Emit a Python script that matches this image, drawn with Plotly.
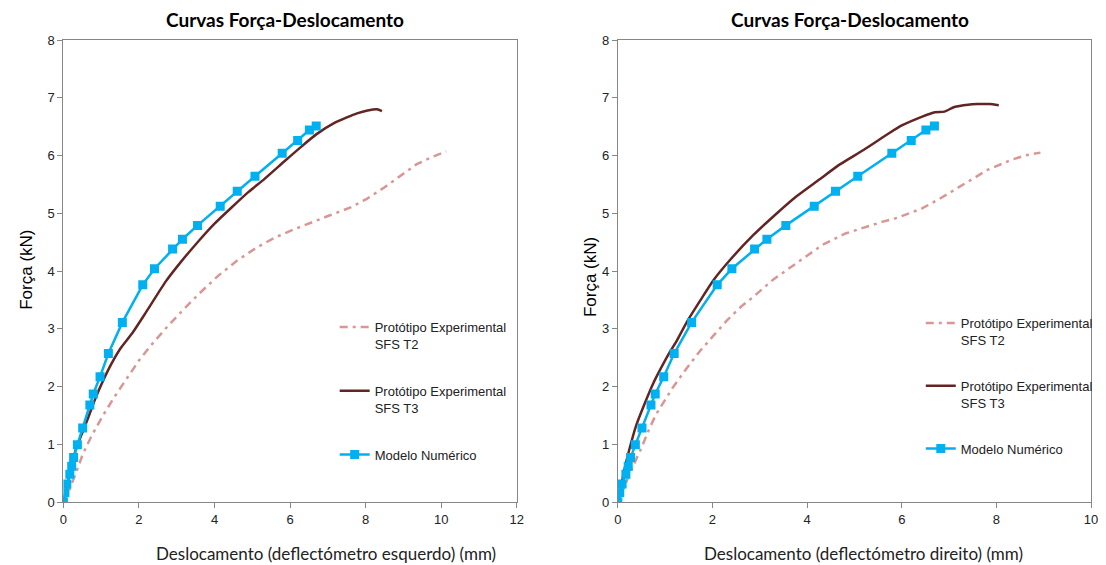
import plotly.graph_objects as go

# ---------------- data ----------------
# Numerical model (same curve in both panels)
model_x = [0, 0.04, 0.09, 0.17, 0.22, 0.27, 0.37, 0.51, 0.70, 0.79, 0.97, 1.19, 1.56,
           2.10, 2.41, 2.89, 3.15, 3.55, 4.15, 4.60, 5.07, 5.79, 6.20, 6.51, 6.69]
model_y = [0, 0.16, 0.31, 0.48, 0.62, 0.77, 0.99, 1.28, 1.68, 1.87, 2.17, 2.57, 3.11,
           3.76, 4.04, 4.38, 4.55, 4.79, 5.12, 5.38, 5.64, 6.04, 6.26, 6.44, 6.51]

# Left panel (deflectómetro esquerdo)
t2_left_x = [0, 0.15, 0.30, 0.52, 0.75, 1.05, 1.35, 1.66, 2.00, 2.30, 2.70, 3.10, 3.58,
             4.10, 4.60, 5.10, 5.60, 6.10, 6.55, 7.07, 7.60, 8.03, 8.50, 8.91, 9.35, 9.78, 10.13]
t2_left_y = [0, 0.20, 0.45, 0.84, 1.15, 1.50, 1.82, 2.12, 2.45, 2.70, 3.00, 3.28, 3.60,
             3.92, 4.18, 4.40, 4.58, 4.72, 4.84, 4.97, 5.10, 5.25, 5.45, 5.65, 5.85, 5.98, 6.07]

t3_left_x = [0, 0.10, 0.20, 0.35, 0.50, 0.65, 0.87, 1.22, 1.50, 1.83, 2.20, 2.71, 3.10,
             3.58, 4.00, 4.45, 4.90, 5.33, 5.85, 6.29, 6.70, 7.16, 7.50, 7.77, 8.05, 8.30, 8.43]
t3_left_y = [0, 0.30, 0.60, 0.95, 1.20, 1.45, 1.83, 2.33, 2.65, 2.93, 3.30, 3.82, 4.15,
             4.52, 4.82, 5.10, 5.37, 5.60, 5.90, 6.15, 6.37, 6.56, 6.66, 6.73, 6.78, 6.80, 6.77]

# Right panel (deflectómetro direito)
t2_right_x = [0, 0.15, 0.32, 0.49, 0.67, 0.81, 1.00, 1.16, 1.44, 1.74, 2.02, 2.30, 2.60,
              2.86, 3.28, 3.83, 4.32, 4.81, 5.23, 5.58, 5.90, 6.42, 6.80, 7.11, 7.50, 7.81,
              8.30, 8.60, 8.93]
t2_right_y = [0, 0.30, 0.62, 0.92, 1.28, 1.52, 1.78, 1.98, 2.30, 2.62, 2.88, 3.14, 3.38,
              3.55, 3.85, 4.16, 4.45, 4.65, 4.76, 4.85, 4.92, 5.08, 5.25, 5.40, 5.60, 5.75,
              5.92, 6.00, 6.05]

t3_right_x = [0, 0.08, 0.15, 0.24, 0.39, 0.57, 0.74, 0.90, 1.10, 1.25, 1.46, 1.75, 2.02,
              2.37, 2.86, 3.28, 3.77, 4.25, 4.70, 5.20, 5.72, 6.00, 6.42, 6.70, 6.90, 7.11,
              7.40, 7.60, 7.85, 8.05]
t3_right_y = [0, 0.32, 0.60, 0.90, 1.33, 1.71, 2.04, 2.30, 2.60, 2.80, 3.12, 3.50, 3.84,
              4.19, 4.62, 4.94, 5.29, 5.58, 5.85, 6.10, 6.38, 6.52, 6.67, 6.75, 6.76, 6.84,
              6.88, 6.89, 6.89, 6.87]

x_ticks_left = [0, 2, 4, 6, 8, 10, 12]
x_ticks_right = [0, 2, 4, 6, 8, 10]
y_ticks = [0, 1, 2, 3, 4, 5, 6, 7, 8]

name_t2 = "Protótipo Experimental<br>SFS T2"
name_t3 = "Protótipo Experimental<br>SFS T3"
name_model = "Modelo Numérico"
title_text = "Curvas Força-Deslocamento"
ytitle = "Força (kN)"
xtitle_left = "Deslocamento (deflectómetro esquerdo) (mm)"
xtitle_right = "Deslocamento (deflectómetro direito) (mm)"

# ---------------- styling ----------------
C_T2 = "#D99694"
C_T3 = "#632523"
C_MOD = "#00B0F0"
AX = "#868686"
NARROW = "Liberation Sans Narrow, Arial Narrow, Liberation Sans, Arial, sans-serif"
W, H = 1106, 565

fig = go.Figure()

def add_panel(xa, ya, leg, t2x, t2y, t3x, t3y):
    fig.add_trace(go.Scatter(x=t2x, y=t2y, mode="lines", name=name_t2,
                             line=dict(color=C_T2, width=2.5, dash="8px,5px,3px,5px"),
                             xaxis=xa, yaxis=ya, legend=leg, legendgroup=leg + "a"))
    fig.add_trace(go.Scatter(x=t3x, y=t3y, mode="lines", name=name_t3,
                             line=dict(color=C_T3, width=2.5, shape="spline", smoothing=0.6),
                             xaxis=xa, yaxis=ya, legend=leg, legendgroup=leg + "b"))
    fig.add_trace(go.Scatter(x=model_x, y=model_y, mode="lines+markers", name=name_model,
                             line=dict(color=C_MOD, width=2.5),
                             marker=dict(symbol="square", size=9, color=C_MOD),
                             xaxis=xa, yaxis=ya, legend=leg, legendgroup=leg + "c"))

add_panel("x", "y", "legend", t2_left_x, t2_left_y, t3_left_x, t3_left_y)
add_panel("x2", "y2", "legend2", t2_right_x, t2_right_y, t3_right_x, t3_right_y)

axis_common = dict(showline=True, linecolor=AX, linewidth=1, mirror=True,
                   ticks="outside", ticklen=5, tickcolor=AX, showgrid=False,
                   zeroline=False, tickfont=dict(family=NARROW, size=13, color="#222"))

fig.update_layout(
    width=W, height=H,
    margin=dict(l=0, r=0, t=40, b=63),
    paper_bgcolor="white", plot_bgcolor="white",
    xaxis=dict(domain=[60 / W, 518 / W], range=[0, 12], tickvals=x_ticks_left,
               anchor="y", **axis_common),
    yaxis=dict(domain=[0, 1], range=[0, 8], tickvals=y_ticks, anchor="x", **axis_common),
    xaxis2=dict(domain=[620 / W, 1098 / W], range=[0, 10], tickvals=x_ticks_right,
                anchor="y2", **axis_common),
    yaxis2=dict(domain=[0, 1], range=[0, 8], tickvals=y_ticks, anchor="x2", **axis_common),
    legend=dict(x=334 / W, y=(502 - 312) / 462, xanchor="left", yanchor="top",
                bgcolor="rgba(0,0,0,0)", font=dict(family=NARROW, size=13, color="#222"),
                traceorder="grouped", tracegroupgap=27, valign="top"),
    legend2=dict(x=926 / W, y=(502 - 308) / 462, xanchor="left", yanchor="top",
                 bgcolor="rgba(0,0,0,0)", font=dict(family=NARROW, size=13, color="#222"),
                 traceorder="grouped", tracegroupgap=26, valign="top"),
    showlegend=True,
)

def py(p):
    return (502 - p) / 462

ann = [
    dict(text="<b>" + title_text + "</b>", x=284 / W, y=py(20),
         font=dict(family="Lato, Liberation Sans, sans-serif", size=19, color="#000")),
    dict(text="<b>" + title_text + "</b>", x=855 / W, y=py(20),
         font=dict(family="Lato, Liberation Sans, sans-serif", size=19, color="#000")),
    dict(text=ytitle, x=22 / W, y=py(270), textangle=-90,
         font=dict(family="Liberation Sans, Arial, sans-serif", size=17, color="#000")),
    dict(text=ytitle, x=592 / W, y=py(277), textangle=-90,
         font=dict(family="Liberation Sans, Arial, sans-serif", size=17, color="#000")),
    dict(text=xtitle_left, x=325 / W, y=py(553),
         font=dict(family="Lato, Liberation Sans, sans-serif", size=17, color="#222")),
    dict(text=xtitle_right, x=868 / W, y=py(553),
         font=dict(family="Lato, Liberation Sans, sans-serif", size=17, color="#222")),
]
for a in ann:
    a.update(xref="paper", yref="paper", showarrow=False, xanchor="center", yanchor="middle")
fig.update_layout(annotations=ann)

fig.write_html("out.html", config={"displayModeBar": False},
               post_script="document.body.style.margin='0';document.body.style.overflow='hidden';")
